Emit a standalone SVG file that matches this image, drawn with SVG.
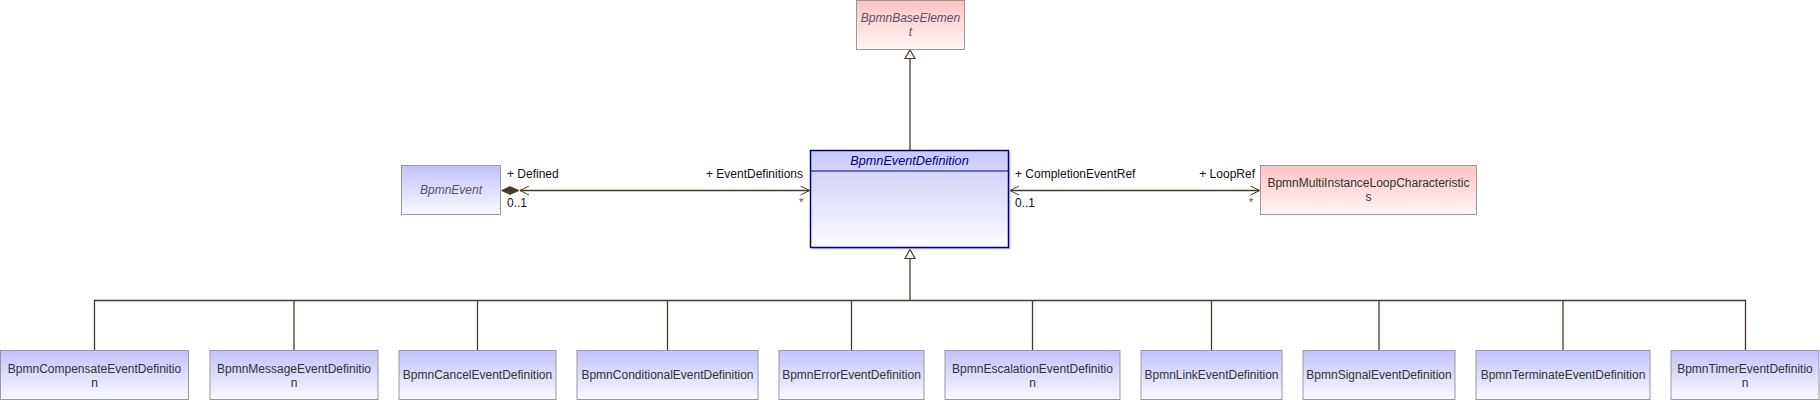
<svg xmlns="http://www.w3.org/2000/svg" width="1820" height="400" viewBox="0 0 1820 400">
<defs>
  <linearGradient id="gBlue" x1="0" y1="0" x2="0" y2="1">
    <stop offset="0" stop-color="#c2c2fd"/>
    <stop offset="1" stop-color="#f9f9ff"/>
  </linearGradient>
  <linearGradient id="gMain" x1="0" y1="0" x2="0" y2="1">
    <stop offset="0" stop-color="#c8c8fa"/>
    <stop offset="1" stop-color="#fbfbff"/>
  </linearGradient>
  <linearGradient id="gPink" x1="0" y1="0" x2="0" y2="1">
    <stop offset="0" stop-color="#ffc2c2"/>
    <stop offset="1" stop-color="#fff6f6"/>
  </linearGradient>
  <marker id="open" viewBox="0 0 10 10" refX="10" refY="5" markerWidth="10" markerHeight="10" markerUnits="userSpaceOnUse" orient="auto-start-reverse">
    <path d="M1,0.5 L10,5 L1,9.5" fill="none" stroke="#4a3b28" stroke-width="1"/>
  </marker>
</defs>
<style>
  .node { stroke: #999999; stroke-width: 1; }
  .blue { fill: url(#gBlue); }
  .pink { fill: url(#gPink); }
  .t { font-family: "Liberation Sans", Arial, sans-serif; font-size: 12px; fill: #333333; text-anchor: middle; }
  .it { font-style: italic; fill: #55556a; }
  .lbl { font-family: "Liberation Sans", Arial, sans-serif; font-size: 12px; fill: #111111; }
  .star { font-family: "Liberation Sans", Arial, sans-serif; font-size: 11px; fill: #6a4a20; }
  .ln { stroke: #4a3b28; stroke-width: 1.3; fill: none; }
</style>

<g id="connectors">
  <line class="ln" x1="910" y1="150" x2="910" y2="58"/>
  <path d="M910,50 L915,58.5 L905,58.5 Z" fill="#ffffff" stroke="#4a3b28" stroke-width="1.2"/>
  <path class="ln" d="M94.5,350 V300.5 H1745.5 V350"/>
  <line class="ln" x1="294" y1="300.5" x2="294" y2="350"/>
  <line class="ln" x1="477.5" y1="300.5" x2="477.5" y2="350"/>
  <line class="ln" x1="667.5" y1="300.5" x2="667.5" y2="350"/>
  <line class="ln" x1="851.5" y1="300.5" x2="851.5" y2="350"/>
  <line class="ln" x1="1032.5" y1="300.5" x2="1032.5" y2="350"/>
  <line class="ln" x1="1211.5" y1="300.5" x2="1211.5" y2="350"/>
  <line class="ln" x1="1379" y1="300.5" x2="1379" y2="350"/>
  <line class="ln" x1="1563" y1="300.5" x2="1563" y2="350"/>
  <line class="ln" x1="910" y1="300.5" x2="910" y2="258"/>
  <path d="M910,249.5 L915,258.5 L905,258.5 Z" fill="#ffffff" stroke="#4a3b28" stroke-width="1.2"/>
  <line class="ln" x1="520" y1="190.5" x2="809.5" y2="190.5" marker-start="url(#open)" marker-end="url(#open)"/>
  <path d="M501.5,190.5 L510,186.5 L519,190.5 L510,194.5 Z" fill="#4a3b28" stroke="#4a3b28" stroke-width="0.8"/>
  <text class="lbl" x="507" y="178">+ Defined</text>
  <text class="lbl" x="507" y="207">0..1</text>
  <text class="lbl" x="803" y="178" text-anchor="end">+ EventDefinitions</text>
  <text class="star" x="799" y="206">*</text>
  <line class="ln" x1="1010" y1="190.5" x2="1259.5" y2="190.5" marker-start="url(#open)" marker-end="url(#open)"/>
  <text class="lbl" x="1015" y="178">+ CompletionEventRef</text>
  <text class="lbl" x="1015" y="207">0..1</text>
  <text class="lbl" x="1255" y="178" text-anchor="end">+ LoopRef</text>
  <text class="star" x="1249" y="206">*</text>
</g>

<g id="BpmnBaseElement">
  <rect class="node pink" x="856.5" y="0.5" width="108" height="49"/>
  <text class="t it" x="910.5" y="22">BpmnBaseElemen</text>
  <text class="t it" x="910.5" y="36">t</text>
</g>

<g id="BpmnEventDefinition">
  <rect x="812.5" y="152.5" width="198" height="97" fill="#a8a8e0" opacity="0.6"/>
  <rect x="810.5" y="150.5" width="198" height="97" fill="url(#gMain)" stroke="#000080" stroke-width="1.5"/>
  <line x1="810.5" y1="171" x2="1008.5" y2="171" stroke="#000080" stroke-width="1.2"/>
  <text x="909.5" y="165" font-family="'Liberation Sans', Arial, sans-serif" font-size="12.7" font-style="italic" fill="#000080" text-anchor="middle">BpmnEventDefinition</text>
</g>

<g id="BpmnEvent">
  <rect class="node blue" x="401.5" y="165.5" width="99" height="49"/>
  <text class="t it" x="451" y="194">BpmnEvent</text>
</g>

<g id="BpmnMultiInstanceLoopCharacteristics">
  <rect class="node pink" x="1260.5" y="165.5" width="216" height="49"/>
  <text class="t" x="1368.5" y="187">BpmnMultiInstanceLoopCharacteristic</text>
  <text class="t" x="1368.5" y="201">s</text>
</g>

<g id="BpmnCompensateEventDefinition">
  <rect class="node blue" x="0.5" y="350.5" width="188" height="49"/>
  <text class="t" x="94.5" y="372.5">BpmnCompensateEventDefinitio</text>
  <text class="t" x="94.5" y="386.5">n</text>
</g>

<g id="BpmnMessageEventDefinition">
  <rect class="node blue" x="210" y="350.5" width="168" height="49"/>
  <text class="t" x="294" y="372.5">BpmnMessageEventDefinitio</text>
  <text class="t" x="294" y="386.5">n</text>
</g>

<g id="BpmnCancelEventDefinition">
  <rect class="node blue" x="399" y="350.5" width="157" height="49"/>
  <text class="t" x="477.5" y="379">BpmnCancelEventDefinition</text>
</g>

<g id="BpmnConditionalEventDefinition">
  <rect class="node blue" x="577" y="350.5" width="181" height="49"/>
  <text class="t" x="667.5" y="379">BpmnConditionalEventDefinition</text>
</g>

<g id="BpmnErrorEventDefinition">
  <rect class="node blue" x="779" y="350.5" width="145" height="49"/>
  <text class="t" x="851.5" y="379">BpmnErrorEventDefinition</text>
</g>

<g id="BpmnEscalationEventDefinition">
  <rect class="node blue" x="945" y="350.5" width="175" height="49"/>
  <text class="t" x="1032.5" y="372.5">BpmnEscalationEventDefinitio</text>
  <text class="t" x="1032.5" y="386.5">n</text>
</g>

<g id="BpmnLinkEventDefinition">
  <rect class="node blue" x="1141" y="350.5" width="141" height="49"/>
  <text class="t" x="1211.5" y="379">BpmnLinkEventDefinition</text>
</g>

<g id="BpmnSignalEventDefinition">
  <rect class="node blue" x="1303" y="350.5" width="152" height="49"/>
  <text class="t" x="1379" y="379">BpmnSignalEventDefinition</text>
</g>

<g id="BpmnTerminateEventDefinition">
  <rect class="node blue" x="1476" y="350.5" width="174" height="49"/>
  <text class="t" x="1563" y="379">BpmnTerminateEventDefinition</text>
</g>

<g id="BpmnTimerEventDefinition">
  <rect class="node blue" x="1671" y="350.5" width="148" height="49"/>
  <text class="t" x="1745" y="372.5">BpmnTimerEventDefinitio</text>
  <text class="t" x="1745" y="386.5">n</text>
</g>
</svg>
